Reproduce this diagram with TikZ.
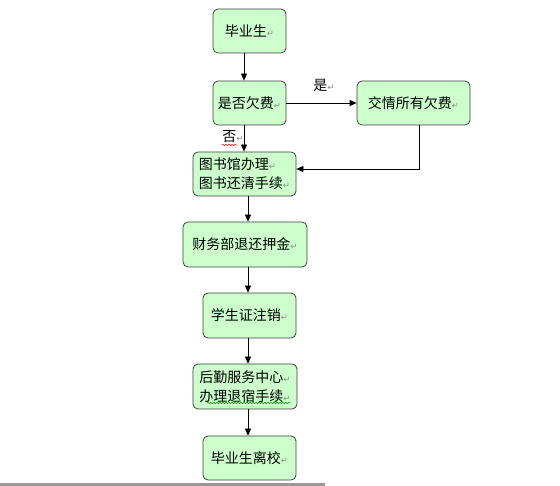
\documentclass[tikz,border=0pt]{standalone}
\usepackage{fontspec}
\setmainfont{Noto Sans CJK SC}
\newfontfamily\dejavu{DejaVu Sans}
\usetikzlibrary{arrows.meta,decorations.pathmorphing}
\definecolor{boxfill}{HTML}{CCFFCC}
\definecolor{boxline}{HTML}{404040}
\newcommand\ret{{\dejavu\fontsize{8.5}{8.5}\selectfont\color{black!45}↵}}
\begin{document}
\begin{tikzpicture}[x=1pt,y=-1pt,
  box/.style={draw=boxline, line width=0.8pt, fill=boxfill, rounded corners=5pt,
    inner sep=0pt, font=\fontsize{14}{19}\selectfont},
  arr/.style={-{Triangle[length=7pt,width=6pt]}, line width=0.8pt},
  lbl/.style={inner sep=0pt, font=\fontsize{14}{15}\selectfont},
  wavy/.style={decorate, decoration={snake, amplitude=0.7pt, segment length=3pt}, line width=0.5pt}]
\useasboundingbox (0,0) rectangle (560,486);
\fill[white] (0,0) rectangle (560,486);
\fill[black!40] (0,483) rectangle (325,486);

\node[box, minimum width=73pt, minimum height=44pt] (b1) at (249.5,31) {毕业生\ret};
\node[box, minimum width=73pt, minimum height=44pt] (b2) at (249.5,103) {是否欠费\ret};
\node[box, minimum width=113pt, minimum height=44pt] (b3) at (413.5,103) {交情所有欠费\ret};
\node[box, minimum width=103pt, minimum height=44pt, align=left] (b4) at (244.5,174) {图书馆办理\ret\\图书还清手续\ret};
\node[box, minimum width=124pt, minimum height=45pt] (b5) at (245,244.5) {财务部退还押金\ret};
\node[box, minimum width=93pt, minimum height=45pt] (b6) at (249.5,315.5) {学生证注销\ret};
\node[box, minimum width=104pt, minimum height=45pt, align=center] (b7) at (245,386.5) {后勤服务中心\ret\\办理退宿手续\ret};
\node[box, minimum width=93pt, minimum height=44pt] (b8) at (249.5,458) {毕业生离校\ret};

\coordinate (xa) at (244,0);
\coordinate (xb) at (248,0);
\coordinate (xc) at (419,0);
\coordinate (yc) at (0,169);

\draw[arr] (b1.south -| xa) -- (b2.north -| xa);
\draw[arr] (b2.east) -- (b3.west);
\draw[arr] (b2.south -| xa) -- (b4.north -| xa);
\draw[arr] (b3.south -| xc) |- (b4.east |- yc);
\draw[arr] (b4.south -| xb) -- (b5.north -| xb);
\draw[arr] (b5.south -| xb) -- (b6.north -| xb);
\draw[arr] (b6.south -| xb) -- (b7.north -| xb);
\draw[arr] (b7.south -| xb) -- (b8.north -| xb);

\node[lbl] (yes) at (324,85) {是\ret};
\node[lbl] (no) at (233,137) {否\ret};
\coordinate (w1) at (222,145);
\coordinate (w2) at (237,145);
\draw[wavy, red] (w1) -- (w2);
\coordinate (g1) at (207,403);
\coordinate (g2) at (290,403);
\draw[wavy, green!60!black] (g1) -- (g2);
\end{tikzpicture}
\end{document}
